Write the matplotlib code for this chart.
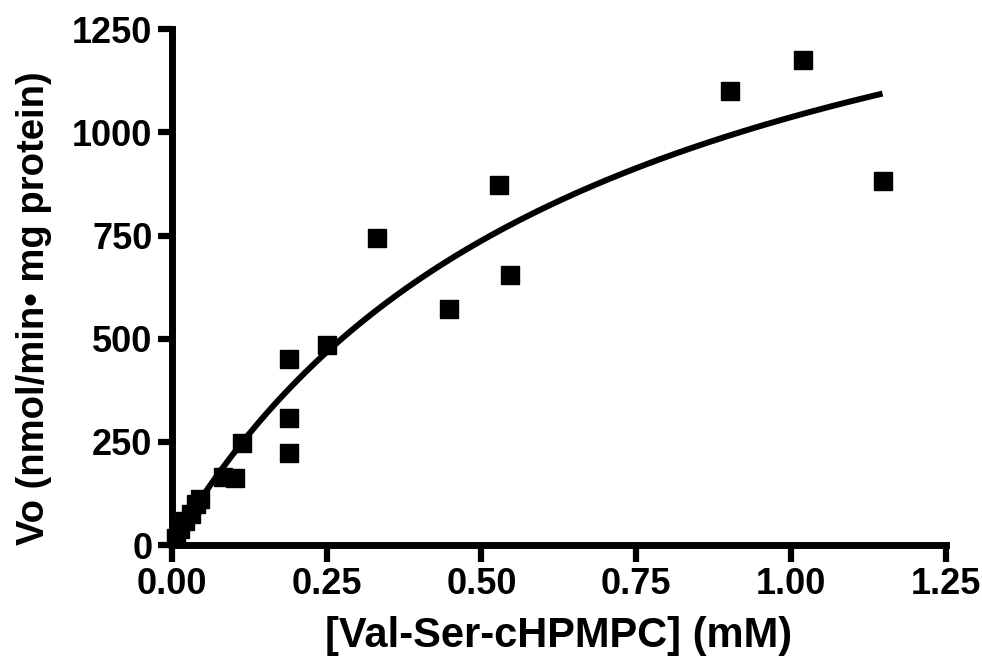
"""Michaelis-Menten plot of initial velocity against Val-Ser-cHPMPC concentration."""

import matplotlib

matplotlib.use("Agg")

import matplotlib.pyplot as plt  # noqa: E402
import numpy as np  # noqa: E402

conc_mm = [0.007, 0.013, 0.021, 0.031, 0.039, 0.045, 0.083, 0.102, 0.113,
           0.190, 0.190, 0.190, 0.250, 0.332, 0.448, 0.528, 0.546,
           0.901, 1.019, 1.148]
velocity = [17, 39, 58, 75, 100, 112, 165, 162, 247,
            452, 307, 224, 484, 744, 573, 872, 654,
            1100, 1175, 882]

# Fitted Michaelis-Menten parameters, estimated from the drawn curve.
VMAX = 1745.0
KM = 0.683

x_ticks = [0.00, 0.25, 0.50, 0.75, 1.00, 1.25]
x_tick_labels = ["0.00", "0.25", "0.50", "0.75", "1.00", "1.25"]
y_ticks = [0, 250, 500, 750, 1000, 1250]

FONT = ["Liberation Sans", "DejaVu Sans"]

fig = plt.figure(figsize=(9.82, 6.64), dpi=100)
ax = fig.add_axes([0.175, 0.179, 0.788, 0.777])

xs = np.linspace(0, max(conc_mm), 300)
ax.plot(xs, VMAX * xs / (KM + xs), color="black", lw=4.3, solid_capstyle="butt")
ax.plot(conc_mm, velocity, ls="none", marker="s", ms=13, color="black",
        mec="black", clip_on=False)

ax.set_xlim(0, 1.25)
ax.set_ylim(0, 1250)
ax.set_xticks(x_ticks)
ax.set_xticklabels(x_tick_labels)
ax.set_yticks(y_ticks)

for side in ("top", "right"):
    ax.spines[side].set_visible(False)
for side in ("left", "bottom"):
    ax.spines[side].set_linewidth(5)
    ax.spines[side].set_capstyle("projecting")

ax.tick_params(axis="both", width=4.5, length=10, pad=4, direction="out")
ax.tick_params(axis="x", length=12)
for lab in ax.get_xticklabels() + ax.get_yticklabels():
    lab.set_family(FONT)
    lab.set_fontweight("bold")
    lab.set_fontsize(26)

ax.set_xlabel("[Val-Ser-cHPMPC] (mM)", family=FONT, fontweight="bold",
              fontsize=30, labelpad=10)
ax.set_ylabel("Vo (nmol/min\u2022 mg protein)", family=FONT, fontweight="bold",
              fontsize=27.5)
ax.yaxis.set_label_coords(-0.155, 0.46)

fig.savefig("out.png", dpi=100)
plt.close(fig)
